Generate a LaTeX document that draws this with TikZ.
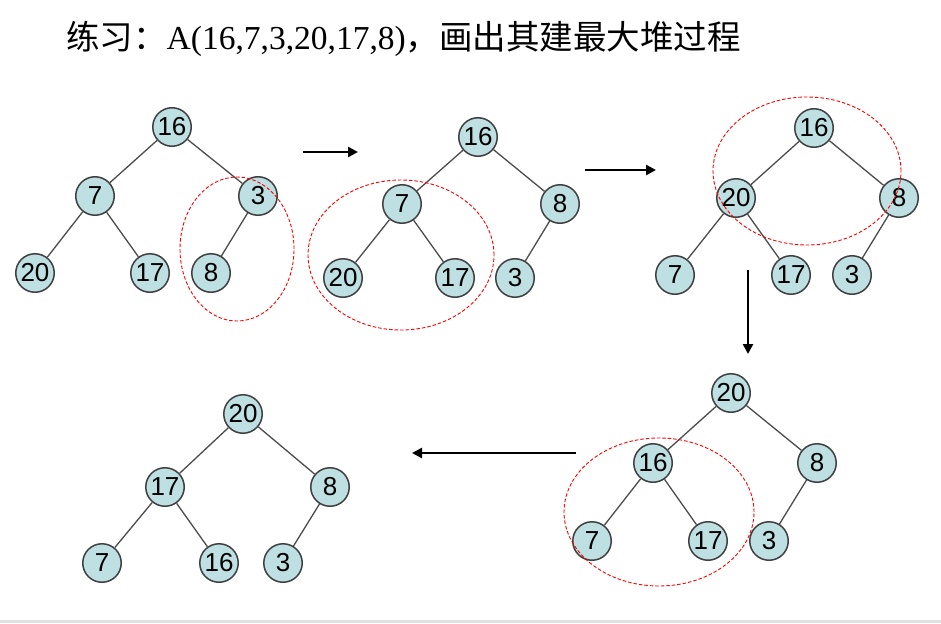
\documentclass[tikz,border=0pt]{standalone}
\usepackage{fontspec}
\setmainfont{Liberation Serif}
\setsansfont{Liberation Sans}
\newfontfamily\cjk{Noto Sans CJK SC}
\usepackage{xcolor}
\usetikzlibrary{arrows.meta}
\definecolor{heapfill}{RGB}{190,224,226}

\begin{document}
\begin{tikzpicture}[x=1pt,y=-1pt,
  key/.style={circle,draw=black!75,fill=heapfill,line width=1.5pt,minimum size=38.5pt,inner sep=0pt,font=\sffamily\fontsize{26}{26}\selectfont},
  edge/.style={draw=black!70,line width=1.3pt},
  subheap/.style={red,dashed,dash pattern=on 3.5pt off 2pt,line width=0.9pt},
  flow/.style={-{Triangle[length=10pt,width=10pt]},line width=2.8pt}]
\useasboundingbox (0,0) rectangle (941,623);
\fill[black!12] (0,620) rectangle (941,623);

% Title
\node[anchor=west,inner sep=0pt,font=\fontsize{33.5}{40}\selectfont] (title) at (66,39)
  {\cjk 练习：\rmfamily A(16,7,3,20,17,8)\cjk ，画出其建最大堆过程};

% Initial tree
\node[key] (s1a) at (172,127) {16};
\node[key] (s1b) at (95,196) {7};
\node[key] (s1c) at (258,196) {3};
\node[key] (s1d) at (35,273) {20};
\node[key] (s1e) at (150,273) {17};
\node[key] (s1f) at (211,273) {8};
\draw[edge] (s1a) -- (s1b);
\draw[edge] (s1a) -- (s1c);
\draw[edge] (s1b) -- (s1d);
\draw[edge] (s1b) -- (s1e);
\draw[edge] (s1c) -- (s1f);
\draw[subheap] (237,249) ellipse [x radius=57pt, y radius=72pt];

% Step 1: 3 <-> 8
\node[key] (s2a) at (478,137) {16};
\node[key] (s2b) at (402,204) {7};
\node[key] (s2c) at (560,204) {8};
\node[key] (s2d) at (343,278) {20};
\node[key] (s2e) at (455,278) {17};
\node[key] (s2f) at (515,278) {3};
\draw[edge] (s2a) -- (s2b);
\draw[edge] (s2a) -- (s2c);
\draw[edge] (s2b) -- (s2d);
\draw[edge] (s2b) -- (s2e);
\draw[edge] (s2c) -- (s2f);
\draw[subheap] (401,255) ellipse [x radius=93pt, y radius=75pt];

% Step 2: 7 <-> 20
\node[key] (s3a) at (814,128) {16};
\node[key] (s3b) at (736,198) {20};
\node[key] (s3c) at (899,198) {8};
\node[key] (s3d) at (675,275) {7};
\node[key] (s3e) at (791,275) {17};
\node[key] (s3f) at (852,275) {3};
\draw[edge] (s3a) -- (s3b);
\draw[edge] (s3a) -- (s3c);
\draw[edge] (s3b) -- (s3d);
\draw[edge] (s3b) -- (s3e);
\draw[edge] (s3c) -- (s3f);
\draw[subheap] (807,171) ellipse [x radius=94pt, y radius=74pt];

% Step 3: 16 <-> 20
\node[key] (s4a) at (731,393) {20};
\node[key] (s4b) at (653,463) {16};
\node[key] (s4c) at (817,463) {8};
\node[key] (s4d) at (592,541) {7};
\node[key] (s4e) at (708,541) {17};
\node[key] (s4f) at (769,541) {3};
\draw[edge] (s4a) -- (s4b);
\draw[edge] (s4a) -- (s4c);
\draw[edge] (s4b) -- (s4d);
\draw[edge] (s4b) -- (s4e);
\draw[edge] (s4c) -- (s4f);
\draw[subheap] (659,512) ellipse [x radius=95pt, y radius=74pt];

% Result: max heap
\node[key] (s5a) at (243,414) {20};
\node[key] (s5b) at (165,487) {17};
\node[key] (s5c) at (330,487) {8};
\node[key] (s5d) at (102,563) {7};
\node[key] (s5e) at (219,563) {16};
\node[key] (s5f) at (283,563) {3};
\draw[edge] (s5a) -- (s5b);
\draw[edge] (s5a) -- (s5c);
\draw[edge] (s5b) -- (s5d);
\draw[edge] (s5b) -- (s5e);
\draw[edge] (s5c) -- (s5f);

% Arrows between steps
\coordinate (f1s) at (303,152);
\coordinate (f1e) at (358,152);
\coordinate (f2s) at (585,170);
\coordinate (f2e) at (656,170);
\coordinate (f3s) at (748,270);
\coordinate (f3e) at (748,354);
\coordinate (f4s) at (576,453);
\coordinate (f4e) at (412,453);
\draw[flow] (f1s) -- (f1e);
\draw[flow] (f2s) -- (f2e);
\draw[flow] (f3s) -- (f3e);
\draw[flow] (f4s) -- (f4e);
\end{tikzpicture}
\end{document}
